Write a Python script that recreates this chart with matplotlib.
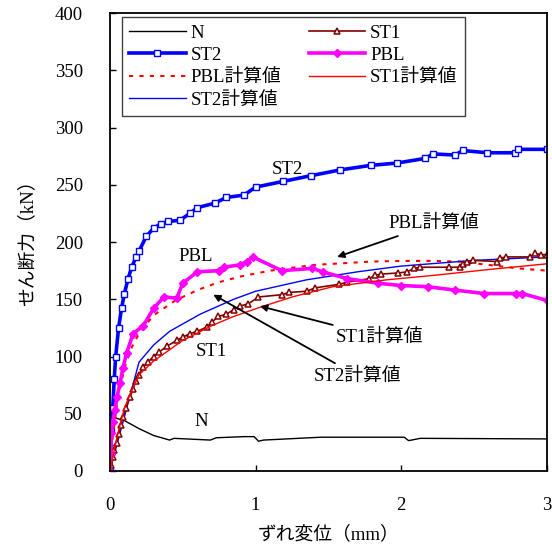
import matplotlib
matplotlib.use('Agg')
import matplotlib.pyplot as plt

plt.rcParams['font.family'] = ['Liberation Serif', 'Noto Sans CJK JP']
plt.rcParams['font.size'] = 13.5

# data
n_x = [0, 0.005, 0.01, 0.03, 0.046, 0.10, 0.2, 0.30, 0.41, 0.44, 0.69, 0.73, 0.92, 0.99,
       1.02, 1.055, 1.45, 2.02, 2.05, 2.13, 3.0]
n_y = [0, 30, 50, 48, 46, 44, 37, 31, 27, 28.5, 27, 29, 30, 30,
       26, 27, 29.5, 29.5, 26.5, 28.5, 28]

st1_x = [0, 0.01, 0.02, 0.03, 0.046, 0.06, 0.075, 0.09, 0.11, 0.14, 0.16, 0.18, 0.2, 0.23,
         0.26, 0.30, 0.34, 0.39, 0.46, 0.5, 0.55, 0.6, 0.67, 0.7, 0.745, 0.8, 0.85, 0.89,
         0.95, 1.02, 1.18, 1.23, 1.35, 1.41, 1.57, 1.63, 1.78, 1.82, 1.86, 1.98, 2.04,
         2.09, 2.13, 2.33, 2.40, 2.42, 2.45, 2.49, 2.66, 2.68, 2.72, 2.88, 2.92, 2.96, 3.0]
st1_y = [0, 5, 12, 18, 24, 32, 40, 47, 55, 65, 72, 79, 84, 91,
         95, 100, 104, 109, 114, 117, 120, 122, 126, 130, 135, 137, 141, 144,
         146, 152, 154, 156, 157, 160, 163, 165, 168, 171, 172, 173, 174,
         177, 178, 178, 178, 181, 183, 184, 183, 186, 187, 187, 190, 189, 189]

st2_x = [0, 0.005, 0.01, 0.02, 0.03, 0.04, 0.06, 0.08, 0.1, 0.125, 0.15, 0.18, 0.2, 0.25,
         0.3, 0.35, 0.4, 0.48, 0.55, 0.6, 0.72, 0.8, 0.92, 1.0, 1.19, 1.38, 1.58, 1.79,
         1.97, 2.16, 2.22, 2.37, 2.42, 2.59, 2.78, 2.8, 3.0]
st2_y = [0, 20, 35, 55, 80, 100, 125, 142, 155, 168, 178, 187, 192, 205,
         212, 216, 218, 219, 225, 230, 234, 239, 241, 248, 253, 258, 263, 267,
         269, 273, 277, 276, 280, 278, 278, 281, 281]

pbl_x = [0, 0.005, 0.01, 0.02, 0.035, 0.05, 0.07, 0.09, 0.115, 0.16, 0.23, 0.30, 0.37,
         0.46, 0.50, 0.60, 0.75, 0.78, 0.89, 0.94, 0.98, 1.18, 1.39, 1.46, 1.63, 1.84,
         2.0, 2.18, 2.37, 2.57, 2.79, 2.83, 3.0]
pbl_y = [0, 15, 33, 43, 53, 65, 77, 90, 103, 120, 127, 142, 152,
         151, 164, 174, 175, 178, 180, 183, 187, 175, 177, 174, 168, 164,
         162, 161, 158, 155, 155, 155, 149]

pbl_calc_x = [0, 0.02, 0.05, 0.1, 0.15, 0.2, 0.3, 0.45, 0.6, 0.75, 0.9, 1.1, 1.4, 1.6, 1.8,
              2.0, 2.2, 2.4, 2.6, 2.8, 3.0]
pbl_calc_y = [0, 30, 60, 90, 108, 120, 136, 149, 158, 165, 170, 175, 180, 181.5, 183,
              183.5, 183.5, 183, 180, 177, 175]

st1_calc_x = [0, 0.05, 0.1, 0.15, 0.2, 0.3, 0.5, 0.7, 0.85, 1.03, 1.25, 1.53, 1.9, 2.23,
              2.6, 3.0]
st1_calc_y = [0, 30, 55, 70, 84, 96, 114, 127, 135, 143, 152, 161, 167, 171, 176, 181]

st2_calc_x = [0, 0.2, 0.3, 0.41, 0.62, 0.85, 1.0, 1.35, 1.7, 2.0, 2.5, 3.0]
st2_calc_y = [0, 95, 110, 122, 137, 150, 157, 167, 174, 179, 184, 187]

fig = plt.figure(figsize=(5.52, 5.47), dpi=100)
ax = fig.add_axes([0.199, 0.139, 0.792, 0.837])

ax.plot(n_x, n_y, color='black', lw=1.0, label='N')
ax.plot(st2_x, st2_y, color='#0000ff', lw=2.6, marker='s', ms=4, mfc='white',
        mec='#0000ff', mew=1.0, label='ST2')
ax.plot(pbl_calc_x, pbl_calc_y, color='#ff0000', lw=1.5, ls=(0, (2, 3)),
        label='PBL計算値')
ax.plot(st2_calc_x, st2_calc_y, color='#0000ff', lw=1.0, label='ST2計算値')
ax.plot(st1_x, st1_y, color='#800000', lw=1.2, marker='^', ms=5, mfc='white',
        mec='#800000', mew=1.1, label='ST1')
ax.plot(pbl_x, pbl_y, color='#ff00ff', lw=2.6, marker='D', ms=4, mfc='#ff00ff',
        mec='#ff00ff', label='PBL')
ax.plot(st1_calc_x, st1_calc_y, color='#ff0000', lw=1.0, label='ST1計算値')

ax.set_xlim(0, 3)
ax.set_ylim(0, 400)
ax.set_xticks([0, 1, 2, 3])
ax.set_yticks(range(0, 401, 50))
ax.tick_params(direction='in', length=4, width=1, top=False, right=False)
ax.tick_params(axis='x', pad=19)
ax.tick_params(axis='y', pad=19.5)
for s in ax.spines.values():
    s.set_linewidth(1.3)

ax.set_xlabel('ずれ変位（mm）')
ax.set_ylabel('せん断力（kN）')
ax.xaxis.set_label_coords(0.5, -0.118)
ax.yaxis.set_label_coords(-0.167, 0.509)

leg = ax.legend(ncol=2, loc='upper left', bbox_to_anchor=(0.0275, 0.991),
                handlelength=3.0, handletextpad=0.25, columnspacing=1.5,
                labelspacing=0.27, borderpad=0.4, borderaxespad=0, fancybox=False,
                edgecolor='#404040', framealpha=1)
leg.get_frame().set_linewidth(1.0)

ax.text(1.22, 263, 'ST2', ha='center', va='center')
ax.text(0.59, 187, 'PBL', ha='center', va='center')
ax.text(0.70, 104, 'ST1', ha='center', va='center')
ax.text(0.63, 43, 'N', ha='center', va='center')

arrow = dict(arrowstyle='-|>', color='black', lw=1.3, mutation_scale=10,
             shrinkA=2, shrinkB=0)
ax.annotate('PBL計算値', xy=(1.56, 187), xytext=(1.91, 216), ha='left', va='center',
            arrowprops=arrow)
ax.annotate('ST1計算値', xy=(1.03, 144), xytext=(1.55, 117), ha='left', va='center',
            arrowprops=arrow)
ax.annotate('ST2計算値', xy=(0.71, 154), xytext=(1.40, 83), ha='left', va='center',
            arrowprops=arrow)

fig.savefig('out.png', dpi=100)
